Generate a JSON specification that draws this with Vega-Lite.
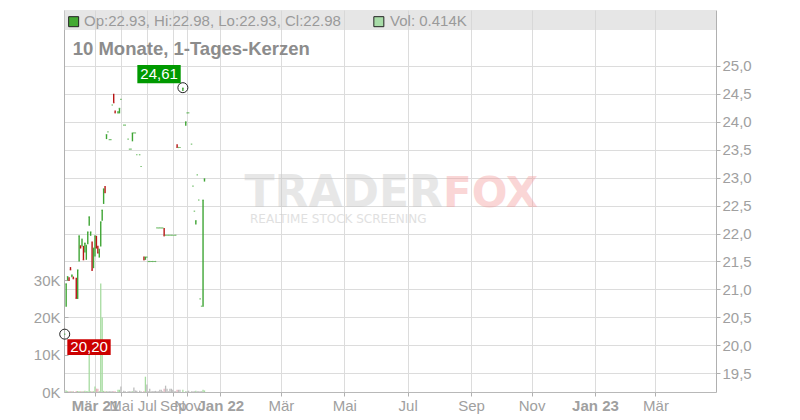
{
  "$schema": "https://vega.github.io/schema/vega-lite/v6.json",
  "width": 652,
  "height": 382,
  "autosize": {"type": "none"},
  "padding": {"left": 64, "top": 10, "right": 84, "bottom": 28},
  "background": "white",
  "config": {
    "view": {"stroke": null},
    "font": "Liberation Sans",
    "axis": {"labelFont": "Liberation Sans", "labelFontSize": 15, "labelColor": "#a0a0a0", "domainColor": "#b0b0b0", "tickColor": "#b0b0b0", "gridColor": "#dcdcdc", "gridWidth": 1}
  },
  "datasets": {
    "candles": [
      {"i":0,"o":20.2,"h":20.2,"l":20.2,"c":20.2,"v":500},
      {"i":1,"o":20.69,"h":21.1,"l":20.69,"c":21.1,"v":400},
      {"i":2,"o":21.16,"h":21.23,"l":21.16,"c":21.23,"v":200},
      {"i":3,"o":21.22,"h":21.22,"l":21.16,"c":21.16,"v":200},
      {"i":4,"o":21.4,"h":21.4,"l":21.35,"c":21.35,"v":200},
      {"i":5,"o":21.22,"h":21.26,"l":21.22,"c":21.26,"v":200},
      {"i":6,"o":21.23,"h":21.23,"l":21.19,"c":21.19,"v":200},
      {"i":8,"o":21.21,"h":21.21,"l":20.84,"c":20.84,"v":300},
      {"i":9,"o":20.83,"h":21.35,"l":20.83,"c":21.35,"v":300},
      {"i":10,"o":21.5,"h":21.96,"l":21.5,"c":21.96,"v":200},
      {"i":11,"o":21.79,"h":21.79,"l":21.74,"c":21.74,"v":200},
      {"i":12,"o":21.77,"h":21.9,"l":21.77,"c":21.9,"v":200},
      {"i":13,"o":21.78,"h":21.78,"l":21.53,"c":21.53,"v":200},
      {"i":14,"o":21.66,"h":21.83,"l":21.66,"c":21.83,"v":350},
      {"i":15,"o":21.53,"h":21.79,"l":21.53,"c":21.79,"v":200},
      {"i":16,"o":21.81,"h":22.03,"l":21.81,"c":22.03,"v":200},
      {"i":17,"o":22.14,"h":22.3,"l":22.14,"c":22.3,"v":9900},
      {"i":18,"o":21.96,"h":22.03,"l":21.96,"c":22.03,"v":200},
      {"i":19,"o":21.86,"h":21.86,"l":21.34,"c":21.34,"v":200},
      {"i":20,"o":21.38,"h":21.74,"l":21.38,"c":21.74,"v":200},
      {"i":21,"o":21.59,"h":21.96,"l":21.59,"c":21.96,"v":1500},
      {"i":22,"o":21.96,"h":21.96,"l":21.74,"c":21.74,"v":900},
      {"i":23,"o":21.78,"h":21.78,"l":21.65,"c":21.65,"v":900},
      {"i":24,"o":21.57,"h":21.72,"l":21.57,"c":21.72,"v":200},
      {"i":25,"o":21.77,"h":22.21,"l":21.77,"c":22.21,"v":29100},
      {"i":26,"o":22.23,"h":22.42,"l":22.23,"c":22.42,"v":20000},
      {"i":27,"o":22.53,"h":22.8,"l":22.53,"c":22.8,"v":300},
      {"i":28,"o":22.85,"h":22.85,"l":22.73,"c":22.73,"v":200},
      {"i":29,"o":23.69,"h":23.77,"l":23.69,"c":23.77,"v":200},
      {"i":30,"o":23.82,"h":23.82,"l":23.82,"c":23.82,"v":200},
      {"i":31,"o":23.68,"h":23.68,"l":23.68,"c":23.68,"v":200},
      {"i":32,"o":23.68,"h":23.68,"l":23.68,"c":23.68,"v":200},
      {"i":33,"o":24.3,"h":24.3,"l":24.3,"c":24.3,"v":200},
      {"i":34,"o":24.5,"h":24.5,"l":24.34,"c":24.34,"v":200},
      {"i":35,"o":24.2,"h":24.2,"l":24.16,"c":24.16,"v":200},
      {"i":37,"o":24.15,"h":24.18,"l":24.15,"c":24.18,"v":600},
      {"i":38,"o":24.15,"h":24.24,"l":24.15,"c":24.24,"v":600},
      {"i":39,"o":24.4,"h":24.4,"l":24.4,"c":24.4,"v":1500},
      {"i":41,"o":23.94,"h":23.94,"l":23.94,"c":23.94,"v":350},
      {"i":42,"o":23.94,"h":23.94,"l":23.94,"c":23.94,"v":200},
      {"i":44,"o":23.69,"h":23.69,"l":23.69,"c":23.69,"v":200},
      {"i":45,"o":23.51,"h":23.51,"l":23.51,"c":23.51,"v":200},
      {"i":46,"o":23.51,"h":23.51,"l":23.51,"c":23.51,"v":200},
      {"i":47,"o":23.65,"h":23.8,"l":23.65,"c":23.8,"v":200},
      {"i":48,"o":23.8,"h":23.8,"l":23.8,"c":23.8,"v":1200},
      {"i":49,"o":23.8,"h":23.8,"l":23.8,"c":23.8,"v":400},
      {"i":50,"o":23.41,"h":23.41,"l":23.41,"c":23.41,"v":350},
      {"i":52,"o":23.41,"h":23.41,"l":23.41,"c":23.41,"v":350},
      {"i":53,"o":23.2,"h":23.2,"l":23.2,"c":23.2,"v":200},
      {"i":55,"o":21.59,"h":21.59,"l":21.53,"c":21.53,"v":300},
      {"i":56,"o":21.53,"h":21.58,"l":21.53,"c":21.58,"v":4100},
      {"i":57,"o":21.58,"h":21.58,"l":21.58,"c":21.58,"v":2000},
      {"i":58,"o":21.5,"h":21.5,"l":21.5,"c":21.5,"v":200},
      {"i":59,"o":21.5,"h":21.5,"l":21.5,"c":21.5,"v":900},
      {"i":60,"o":21.5,"h":21.5,"l":21.5,"c":21.5,"v":200},
      {"i":61,"o":21.5,"h":21.5,"l":21.5,"c":21.5,"v":200},
      {"i":62,"o":21.5,"h":21.5,"l":21.5,"c":21.5,"v":300},
      {"i":63,"o":21.5,"h":21.5,"l":21.5,"c":21.5,"v":300},
      {"i":64,"o":22.1,"h":22.1,"l":22.1,"c":22.1,"v":200},
      {"i":65,"o":22.1,"h":22.1,"l":22.1,"c":22.1,"v":200},
      {"i":66,"o":22.1,"h":22.1,"l":22.1,"c":22.1,"v":600},
      {"i":67,"o":22.1,"h":22.1,"l":22.1,"c":22.1,"v":600},
      {"i":68,"o":22.1,"h":22.1,"l":22.1,"c":22.1,"v":200},
      {"i":69,"o":22.1,"h":22.1,"l":21.96,"c":21.96,"v":900},
      {"i":70,"o":21.97,"h":21.97,"l":21.97,"c":21.97,"v":1700},
      {"i":71,"o":21.97,"h":21.97,"l":21.97,"c":21.97,"v":900},
      {"i":72,"o":21.97,"h":21.97,"l":21.97,"c":21.97,"v":200},
      {"i":73,"o":21.97,"h":21.97,"l":21.97,"c":21.97,"v":900},
      {"i":74,"o":21.97,"h":21.97,"l":21.97,"c":21.97,"v":900},
      {"i":75,"o":21.97,"h":21.97,"l":21.97,"c":21.97,"v":600},
      {"i":76,"o":21.97,"h":21.97,"l":21.97,"c":21.97,"v":200},
      {"i":77,"o":21.97,"h":21.97,"l":21.97,"c":21.97,"v":200},
      {"i":78,"o":23.6,"h":23.6,"l":23.54,"c":23.54,"v":600},
      {"i":79,"o":23.54,"h":23.54,"l":23.54,"c":23.54,"v":600},
      {"i":80,"o":23.54,"h":23.54,"l":23.54,"c":23.54,"v":600},
      {"i":82,"o":24.55,"h":24.61,"l":24.55,"c":24.6,"v":600},
      {"i":84,"o":23.93,"h":24.0,"l":23.93,"c":24.0,"v":200},
      {"i":85,"o":24.16,"h":24.16,"l":24.16,"c":24.16,"v":200},
      {"i":86,"o":24.16,"h":24.16,"l":24.16,"c":24.16,"v":350},
      {"i":88,"o":23.6,"h":23.6,"l":23.6,"c":23.6,"v":200},
      {"i":89,"o":22.85,"h":22.85,"l":22.85,"c":22.85,"v":200},
      {"i":90,"o":22.4,"h":22.4,"l":22.4,"c":22.4,"v":200},
      {"i":91,"o":22.16,"h":22.23,"l":22.16,"c":22.23,"v":350},
      {"i":92,"o":23.05,"h":23.05,"l":23.05,"c":23.05,"v":200},
      {"i":93,"o":22.6,"h":22.6,"l":22.6,"c":22.6,"v":200},
      {"i":94,"o":20.83,"h":20.83,"l":20.83,"c":20.83,"v":200},
      {"i":95,"o":20.7,"h":20.7,"l":20.7,"c":20.7,"v":200},
      {"i":96,"o":20.69,"h":22.6,"l":20.69,"c":22.6,"v":600},
      {"i":97,"o":22.93,"h":22.98,"l":22.93,"c":22.98,"v":414}
    ],
    "extremes": [
      {"i":82,"p":24.61},
      {"i":0,"p":20.2}
    ]
  },
  "data": {"name": "candles"},
  "layer": [
    {
      "mark": {"type": "bar", "size": 1.3},
      "encoding": {
        "x": {
          "field": "i", "type": "quantitative", "title": null,
          "scale": {"domain": [-0.5, 452], "nice": false, "zero": false, "padding": 0},
          "axis": {
            "title": null,
            "values": [21, 39, 57, 75, 85, 108, 150, 194, 238, 282, 324, 368, 410],
            "tickCount": 20,
            "labelExpr": "datum.value==21?'Mär 21':datum.value==39?'Mai':datum.value==57?'Jul':datum.value==75?'Sep':datum.value==85?'Nov':datum.value==108?'Jan 22':datum.value==150?'Mär':datum.value==194?'Mai':datum.value==238?'Jul':datum.value==282?'Sep':datum.value==324?'Nov':datum.value==368?'Jan 23':datum.value==410?'Mär':''",
            "labelFontWeight": {"condition": {"test": "datum.value==21||datum.value==108||datum.value==368", "value": "bold"}, "value": "normal"},
            "labelOverlap": false,
            "labelBound": false,
            "labelFlush": false,
            "grid": true,
            "tickSize": 4,
            "labelPadding": 2,
            "domainColor": "#b8b8b8"
          }
        },
        "y": {
          "field": "v", "type": "quantitative", "title": null,
          "scale": {"domain": [0, 102400], "nice": false},
          "axis": {
            "title": null,
            "orient": "left",
            "values": [0, 10000, 20000, 30000],
            "labelExpr": "format(datum.value/1000,'d') + 'K'",
            "grid": false,
            "tickSize": -4,
            "labelPadding": 8
          }
        },
        "color": {
          "condition": [
            {"test": "datum.c > datum.o", "value": "#a6dba0"},
            {"test": "datum.c < datum.o", "value": "#e6b3bd"}
          ],
          "value": "#bdbdbd"
        }
      }
    },
    {
      "layer": [
        {
          "mark": {"type": "rule", "strokeWidth": 1.4},
          "encoding": {
            "x": {"field": "i", "type": "quantitative", "title": null},
            "y": {
              "field": "l", "type": "quantitative", "title": null,
              "scale": {"domain": [19.165, 26.0], "nice": false, "zero": false, "padding": 0},
              "axis": {
                "title": null,
                "orient": "right",
                "values": [19.5, 20, 20.5, 21, 21.5, 22, 22.5, 23, 23.5, 24, 24.5, 25],
                "tickCount": 20,
                "labelExpr": "replace(format(datum.value, '.1f'), '.', ',')",
                "labelOverlap": false,
                "labelBound": false,
                "grid": true,
                "tickSize": 4,
                "labelPadding": 2
              }
            },
            "y2": {"field": "h"},
            "color": {"condition": {"test": "datum.c < datum.o", "value": "#b81414"}, "value": "#3fa535"}
          }
        },
        {
          "data": {"values": [{}]},
          "mark": {"type": "text", "text": "TRADER", "font": "DejaVu Sans", "fontWeight": "bold", "fontSize": 44, "align": "right", "baseline": "alphabetic", "color": "#c8c8c8", "opacity": 0.42},
          "encoding": {
            "x": {"datum": 262.5, "type": "quantitative", "title": null},
            "y": {"datum": 22.475, "type": "quantitative", "title": null}
          }
        },
        {
          "data": {"values": [{}]},
          "mark": {"type": "text", "text": "FOX", "font": "DejaVu Sans", "fontWeight": "bold", "fontSize": 42, "align": "left", "baseline": "alphabetic", "color": "#f49a9a", "opacity": 0.4},
          "encoding": {
            "x": {"datum": 262.5, "type": "quantitative", "title": null},
            "y": {"datum": 22.475, "type": "quantitative", "title": null}
          }
        },
        {
          "data": {"values": [{}]},
          "mark": {"type": "text", "text": "REALTIME STOCK SCREENING", "font": "DejaVu Sans", "fontSize": 12, "align": "left", "baseline": "alphabetic", "color": "#c8c8c8", "opacity": 0.55},
          "encoding": {
            "x": {"datum": 128.6, "type": "quantitative", "title": null},
            "y": {"datum": 22.183, "type": "quantitative", "title": null}
          }
        },
        {
          "data": {"values": [{}]},
          "mark": {"type": "rect", "color": "#d6d6d6", "opacity": 0.6},
          "encoding": {
            "x": {"datum": -0.5, "type": "quantitative", "title": null},
            "x2": {"datum": 452},
            "y": {"datum": 26.0, "type": "quantitative", "title": null},
            "y2": {"datum": 25.642}
          }
        },
        {
          "mark": {"type": "tick", "orient": "horizontal", "size": 1.5, "thickness": 1.2},
          "encoding": {
            "x": {"field": "i", "type": "quantitative", "title": null},
            "y": {"field": "c", "type": "quantitative", "title": null},
            "color": {"condition": {"test": "datum.c < datum.o", "value": "#b81414"}, "value": "#3fa535"}
          }
        },
        {
          "data": {"name": "extremes"},
          "mark": {"type": "point", "shape": "circle", "size": 100, "filled": false, "stroke": "#222222", "strokeWidth": 1, "opacity": 1},
          "encoding": {
            "x": {"field": "i", "type": "quantitative", "title": null},
            "y": {"field": "p", "type": "quantitative", "title": null}
          }
        },
        {
          "data": {"values": [{}]},
          "mark": {"type": "rect", "color": "#009900"},
          "encoding": {
            "x": {"datum": 50.4, "type": "quantitative", "title": null},
            "x2": {"datum": 80.5},
            "y": {"datum": 25.016, "type": "quantitative", "title": null},
            "y2": {"datum": 24.688}
          }
        },
        {
          "data": {"values": [{}]},
          "mark": {"type": "text", "text": "24,61", "fontSize": 15, "align": "center", "baseline": "middle", "color": "white"},
          "encoding": {
            "x": {"datum": 65.5, "type": "quantitative", "title": null},
            "y": {"datum": 24.851, "type": "quantitative", "title": null}
          }
        },
        {
          "data": {"values": [{}]},
          "mark": {"type": "rect", "color": "#cc0000"},
          "encoding": {
            "x": {"datum": 1.8, "type": "quantitative", "title": null},
            "x2": {"datum": 31.9},
            "y": {"datum": 20.108, "type": "quantitative", "title": null},
            "y2": {"datum": 19.827}
          }
        },
        {
          "data": {"values": [{}]},
          "mark": {"type": "text", "text": "20,20", "fontSize": 15, "align": "center", "baseline": "middle", "color": "white"},
          "encoding": {
            "x": {"datum": 16.9, "type": "quantitative", "title": null},
            "y": {"datum": 19.967, "type": "quantitative", "title": null}
          }
        },
        {
          "data": {"values": [{}]},
          "mark": {"type": "point", "shape": "square", "size": 100, "filled": true, "color": "#44aa33", "stroke": "#222222", "strokeWidth": 1, "opacity": 1},
          "encoding": {
            "x": {"datum": 6.2, "type": "quantitative", "title": null},
            "y": {"datum": 25.791, "type": "quantitative", "title": null}
          }
        },
        {
          "data": {"values": [{}]},
          "mark": {"type": "text", "text": "Op:22.93, Hi:22.98, Lo:22.93, Cl:22.98", "fontSize": 15, "align": "left", "baseline": "alphabetic", "color": "#9a9a9a"},
          "encoding": {
            "x": {"datum": 13.4, "type": "quantitative", "title": null},
            "y": {"datum": 25.714, "type": "quantitative", "title": null}
          }
        },
        {
          "data": {"values": [{}]},
          "mark": {"type": "point", "shape": "square", "size": 100, "filled": true, "color": "#a8dca8", "stroke": "#222222", "strokeWidth": 1, "opacity": 1},
          "encoding": {
            "x": {"datum": 218, "type": "quantitative", "title": null},
            "y": {"datum": 25.791, "type": "quantitative", "title": null}
          }
        },
        {
          "data": {"values": [{}]},
          "mark": {"type": "text", "text": "Vol: 0.414K", "fontSize": 15, "align": "left", "baseline": "alphabetic", "color": "#9a9a9a"},
          "encoding": {
            "x": {"datum": 225.8, "type": "quantitative", "title": null},
            "y": {"datum": 25.714, "type": "quantitative", "title": null}
          }
        },
        {
          "data": {"values": [{}]},
          "mark": {"type": "text", "text": "10 Monate, 1-Tages-Kerzen", "fontSize": 18.5, "fontWeight": "bold", "align": "left", "baseline": "alphabetic", "color": "#8c8c8c"},
          "encoding": {
            "x": {"datum": 5.55, "type": "quantitative", "title": null},
            "y": {"datum": 25.195, "type": "quantitative", "title": null}
          }
        }
      ]
    }
  ],
  "resolve": {"scale": {"y": "independent"}}
}
